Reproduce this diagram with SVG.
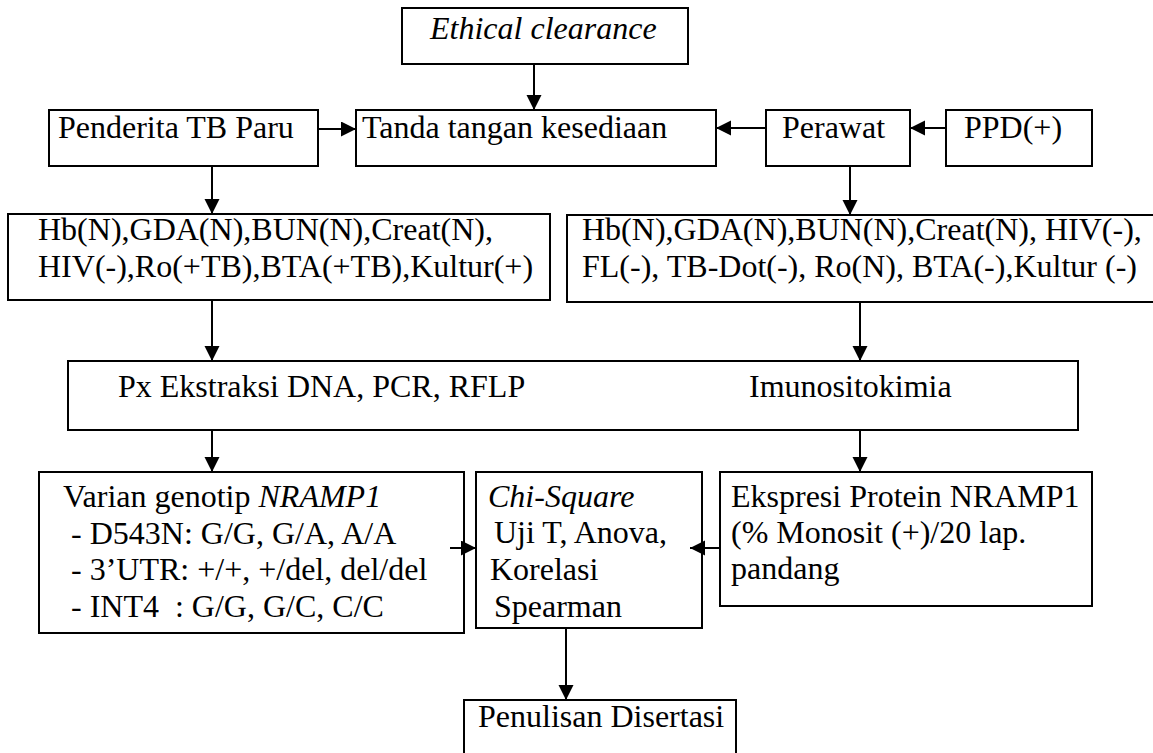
<svg xmlns="http://www.w3.org/2000/svg" width="1153" height="753" viewBox="0 0 1153 753">
<style>
.box{fill:#fff;stroke:#000;stroke-width:2}
.t{font-family:"Liberation Serif","Times New Roman",serif;font-size:32px;fill:#000;white-space:pre}
.i{font-style:italic}
.c{stroke:#000;stroke-width:2;fill:none;marker-end:url(#ah)}
</style>
<defs>
<marker id="ah" markerUnits="userSpaceOnUse" markerWidth="16" markerHeight="16" refX="15" refY="7.5" orient="auto">
<path d="M0,0 L15,7.5 L0,15 Z" fill="#000"/>
</marker>
</defs>
<g id="ethical"><rect class="box" x="402" y="8" width="286" height="56"/><text class="t i" x="430" y="39">Ethical clearance</text></g>
<g id="penderita"><rect class="box" x="49" y="110" width="269" height="56"/><text class="t" x="58" y="138">Penderita TB Paru</text></g>
<g id="tanda"><rect class="box" x="356" y="110" width="360" height="56"/><text class="t" x="362" y="138">Tanda tangan kesediaan</text></g>
<g id="perawat"><rect class="box" x="766" y="110" width="144" height="56"/><text class="t" x="782" y="138">Perawat</text></g>
<g id="ppd"><rect class="box" x="946" y="110" width="146" height="56"/><text class="t" x="964" y="138">PPD(+)</text></g>
<g id="hb-left"><rect class="box" x="8" y="214" width="542" height="86"/><text class="t" x="38" y="240">Hb(N),GDA(N),BUN(N),Creat(N),</text><text class="t" x="38" y="277">HIV(-),Ro(+TB),BTA(+TB),Kultur(+)</text></g>
<g id="hb-right"><rect class="box" x="567" y="215" width="590" height="87"/><text class="t" x="582" y="240">Hb(N),GDA(N),BUN(N),Creat(N), HIV(-),</text><text class="t" x="582" y="277">FL(-), TB-Dot(-), Ro(N), BTA(-),Kultur (-)</text></g>
<g id="px"><rect class="box" x="68" y="361" width="1010" height="69"/><text class="t" x="118" y="397">Px Ekstraksi DNA, PCR, RFLP</text><text class="t" x="749" y="397">Imunositokimia</text></g>
<g id="varian"><rect class="box" x="39" y="472" width="425" height="161"/>
<text class="t" x="63" y="507">Varian genotip <tspan class="i">NRAMP1</tspan></text>
<text class="t" x="71" y="544">- D543N: G/G, G/A, A/A</text>
<text class="t" x="71" y="580">- 3’UTR: +/+, +/del, del/del</text>
<text class="t" x="71" y="617">- INT4  : G/G, G/C, C/C</text></g>
<g id="chi"><rect class="box" x="476" y="472" width="226" height="156"/>
<text class="t i" x="488" y="507">Chi-Square</text>
<text class="t" x="494" y="543">Uji T, Anova,</text>
<text class="t" x="490" y="580">Korelasi</text>
<text class="t" x="494" y="617">Spearman</text></g>
<g id="ekspresi"><rect class="box" x="720" y="472" width="372" height="134"/>
<text class="t" x="731" y="507">Ekspresi Protein NRAMP1</text>
<text class="t" x="731" y="543">(% Monosit (+)/20 lap.</text>
<text class="t" x="731" y="579">pandang</text></g>
<g id="penulisan"><rect class="box" x="464" y="700" width="272" height="60"/><text class="t" x="478" y="727">Penulisan Disertasi</text></g>
<g id="connectors">
<line class="c" x1="534" y1="64" x2="534" y2="110"/>
<line class="c" x1="318" y1="129" x2="356" y2="129"/>
<line class="c" x1="766" y1="128" x2="716" y2="128"/>
<line class="c" x1="946" y1="128" x2="910" y2="128"/>
<line class="c" x1="212" y1="166" x2="212" y2="214"/>
<line class="c" x1="850" y1="166" x2="850" y2="215"/>
<line class="c" x1="212" y1="300" x2="212" y2="361"/>
<line class="c" x1="860" y1="302" x2="860" y2="361"/>
<line class="c" x1="212" y1="430" x2="212" y2="472"/>
<line class="c" x1="860" y1="430" x2="860" y2="472"/>
<line class="c" x1="450" y1="548" x2="476" y2="548"/>
<line class="c" x1="720" y1="548" x2="690" y2="548"/>
<line class="c" x1="566" y1="628" x2="566" y2="700"/>
</g>
</svg>
